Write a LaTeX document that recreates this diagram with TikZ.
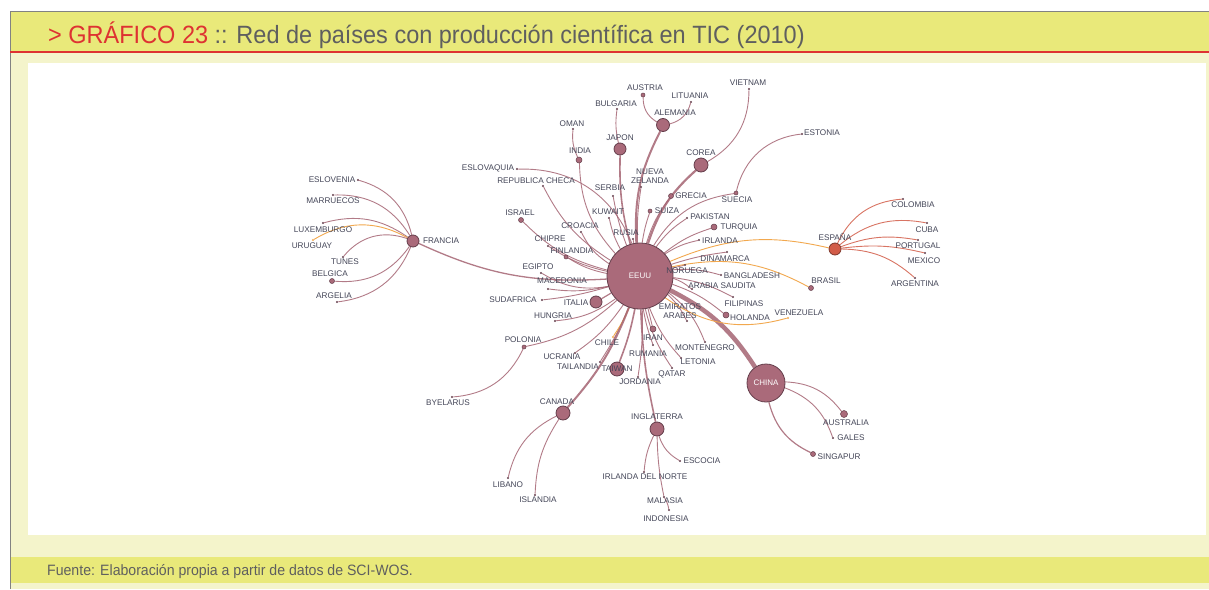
\documentclass[tikz,border=0pt]{standalone}
\usepackage{fontspec}
\setmainfont{Liberation Sans}
\newfontfamily\titulofont[FakeStretch=0.94]{Liberation Sans}

\definecolor{amarillo}{RGB}{233,233,122}
\definecolor{crema}{RGB}{244,244,203}
\definecolor{rojotit}{RGB}{222,50,50}
\definecolor{grisborde}{RGB}{130,130,130}
\definecolor{gristit}{RGB}{95,95,95}
\definecolor{malva}{RGB}{170,106,122}
\definecolor{malvaosc}{RGB}{100,62,75}
\definecolor{colarista}{RGB}{165,100,115}
\definecolor{naranja}{RGB}{242,168,78}
\definecolor{rojoesp}{RGB}{210,92,72}
\definecolor{texto}{RGB}{68,70,88}

\pgfdeclarelayer{fondo}
\pgfdeclarelayer{aristas}
\pgfsetlayers{fondo,aristas,main}

\tikzset{
  hub/.style={circle, draw=malvaosc, fill=malva, line width=0.8pt, inner sep=0pt},
  bola/.style={circle, draw=malvaosc, fill=malva, line width=0.5pt, inner sep=0pt, minimum size=5pt},
  punto/.style={circle, fill=malvaosc, inner sep=0pt, minimum size=2.2pt},
  pais/.style={font=\fontsize{8.2}{8.6}\selectfont, text=texto, inner sep=0pt, align=center},
  arista/.style={draw=colarista, line width=0.9pt, draw opacity=0.85},
  naranjo/.style={draw=naranja, line width=0.9pt},
}

\begin{document}
\begin{tikzpicture}[x=1pt, y=-1pt]
\useasboundingbox (0,0) rectangle (1209,589);

%fondo y marcos
\begin{pgfonlayer}{fondo}
  \fill[white] (0,0) rectangle (1209,589);
  \fill[crema] (10,52) rectangle (1209,589);
  \fill[amarillo] (10,11) rectangle (1209,52);
  \fill[amarillo] (10,557) rectangle (1209,583);
  \fill[white] (28,63) rectangle (1206,535);
  \draw[grisborde, line width=1pt] (10,589) -- (10,11) -- (1209,11);
  \draw[rojotit, line width=1.2pt] (10,52) -- (1209,52);
\end{pgfonlayer}

%titulo y fuente
\node[anchor=west, inner sep=0pt, text=gristit, font=\titulofont\fontsize{25}{28}\selectfont] (titulo) at (48,35)
  {\textcolor{rojotit}{> GRÁFICO 23} :: Red de países con producción científica en TIC (2010)};
\node[anchor=west, inner sep=0pt, text=gristit, font=\titulofont\fontsize{15}{17}\selectfont] (fuente) at (47,572)
  {Fuente: Elaboración propia a partir de datos de SCI-WOS.};

%nodos grandes
\node[hub, minimum size=66pt, text=white, font=\fontsize{8}{9}\selectfont] (eeuu) at (640,276) {EEUU};
\node[hub, minimum size=38pt, text=white, font=\fontsize{8}{9}\selectfont] (china) at (766,383) {CHINA};
\node[hub, minimum size=12pt] (francia) at (413,241) {};
\node[hub, minimum size=13pt] (alemania) at (663,125) {};
\node[hub, minimum size=14pt] (corea) at (701,165) {};
\node[hub, minimum size=12pt] (japon) at (620,149) {};
\node[hub, minimum size=12pt] (italia) at (596,302) {};
\node[hub, minimum size=14pt] (taiwan) at (617,369) {};
\node[hub, minimum size=14pt] (canada) at (563,413) {};
\node[hub, minimum size=14pt] (inglaterra) at (657,429) {};
\node[hub, minimum size=12pt, fill=rojoesp, draw=rojoesp!60!black] (espana) at (835,249) {};

%nodos medianos
\node[bola, minimum size=6pt] (india) at (579,160) {};
\node[bola] (israel) at (521,220) {};
\node[bola] (grecia) at (671,196) {};
\node[bola, minimum size=4pt] (suiza) at (650,211) {};
\node[bola, minimum size=6pt] (turquia) at (714,227) {};
\node[bola, minimum size=4pt] (suecia) at (736,193) {};
\node[bola, minimum size=6pt] (iran) at (653,329) {};
\node[bola, minimum size=6pt] (holanda) at (726,315) {};
\node[bola] (belgica) at (332,281) {};
\node[bola, minimum size=4pt] (polonia) at (524,347) {};
\node[bola] (brasil) at (811,288) {};
\node[bola, minimum size=7pt] (australia) at (844,414) {};
\node[bola] (singapur) at (813,454) {};
\node[bola, minimum size=4pt] (austria) at (643,95) {};
\node[bola, minimum size=4pt] (finlandia) at (566,257) {};

%puntos
\node[punto] (eslovenia) at (358,180) {};
\node[punto] (marruecos) at (333,195) {};
\node[punto] (luxemburgo) at (323,223) {};
\node[punto, fill=naranja] (uruguay) at (313,240) {};
\node[punto] (tunes) at (343,257) {};
\node[punto] (argelia) at (337,302) {};
\node[punto] (lituania) at (691,102) {};
\node[punto] (vietnam) at (749,89) {};
\node[punto] (estonia) at (802,134) {};
\node[punto] (pakistan) at (687,218) {};
\node[punto] (irlanda) at (699,240) {};
\node[punto] (dinamarca) at (727,252) {};
\node[punto] (noruega) at (685,265) {};
\node[punto] (bangladesh) at (721,275) {};
\node[punto] (arabia) at (692,289) {};
\node[punto] (filipinas) at (733,297) {};
\node[punto, fill=naranja] (venezuela) at (788,318) {};
\node[punto] (colombia) at (903,199) {};
\node[punto] (cuba) at (927,223) {};
\node[punto] (portugal) at (918,240) {};
\node[punto] (mexico) at (925,253) {};
\node[punto] (argentina) at (915,278) {};
\node[punto] (emiratos) at (687,321) {};
\node[punto] (montenegro) at (705,342) {};
\node[punto] (letonia) at (681,358) {};
\node[punto] (qatar) at (672,368) {};
\node[punto] (rumania) at (653,345) {};
\node[punto] (jordania) at (638,377) {};
\node[punto, fill=naranja] (chile) at (613,337) {};
\node[punto] (tailandia) at (600,362) {};
\node[punto] (ucrania) at (575,353) {};
\node[punto] (byelarus) at (452,397) {};
\node[punto] (libano) at (508,478) {};
\node[punto] (islandia) at (535,495) {};
\node[punto] (escocia) at (680,461) {};
\node[punto] (irlandanorte) at (644,472) {};
\node[punto] (malasia) at (664,497) {};
\node[punto] (indonesia) at (669,510) {};
\node[punto] (gales) at (833,438) {};
\node[punto] (oman) at (573,129) {};
\node[punto] (bulgaria) at (617,109) {};
\node[punto] (eslovaquia) at (517,169) {};
\node[punto] (checa) at (543,186) {};
\node[punto] (zelanda) at (641,187) {};
\node[punto] (serbia) at (613,196) {};
\node[punto] (kuwait) at (609,218) {};
\node[punto] (rusia) at (633,239) {};
\node[punto] (croacia) at (581,232) {};
\node[punto] (chipre) at (548,246) {};
\node[punto] (egipto) at (541,273) {};
\node[punto] (macedonia) at (548,289) {};
\node[punto] (sudafrica) at (542,300) {};
\node[punto] (hungria) at (555,321) {};

%etiquetas
\node[pais] (t-francia) at (441,241) {FRANCIA};
\node[pais] (t-eslovenia) at (332,180) {ESLOVENIA};
\node[pais] (t-marruecos) at (333,201) {MARRUECOS};
\node[pais] (t-luxemburgo) at (323,230) {LUXEMBURGO};
\node[pais] (t-uruguay) at (312,246) {URUGUAY};
\node[pais] (t-tunes) at (345,262) {TUNES};
\node[pais] (t-belgica) at (330,274) {BELGICA};
\node[pais] (t-argelia) at (334,296) {ARGELIA};
\node[pais] (t-austria) at (645,88) {AUSTRIA};
\node[pais] (t-lituania) at (690,96) {LITUANIA};
\node[pais] (t-alemania) at (675,113) {ALEMANIA};
\node[pais] (t-vietnam) at (748,83) {VIETNAM};
\node[pais] (t-corea) at (701,153) {COREA};
\node[pais] (t-estonia) at (822,133) {ESTONIA};
\node[pais] (t-suecia) at (737,200) {SUECIA};
\node[pais] (t-grecia) at (691,196) {GRECIA};
\node[pais] (t-suiza) at (667,211) {SUIZA};
\node[pais] (t-pakistan) at (710,217) {PAKISTAN};
\node[pais] (t-turquia) at (739,227) {TURQUIA};
\node[pais] (t-irlanda) at (720,241) {IRLANDA};
\node[pais] (t-dinamarca) at (725,259) {DINAMARCA};
\node[pais] (t-noruega) at (687,271) {NORUEGA};
\node[pais] (t-bangladesh) at (752,276) {BANGLADESH};
\node[pais] (t-arabia) at (722,286) {ARABIA SAUDITA};
\node[pais] (t-filipinas) at (744,304) {FILIPINAS};
\node[pais] (t-holanda) at (750,318) {HOLANDA};
\node[pais] (t-venezuela) at (799,313) {VENEZUELA};
\node[pais] (t-brasil) at (826,281) {BRASIL};
\node[pais] (t-espana) at (835,237) {ESPAÑA};
\node[pais] (t-colombia) at (913,205) {COLOMBIA};
\node[pais] (t-cuba) at (927,230) {CUBA};
\node[pais] (t-portugal) at (918,246) {PORTUGAL};
\node[pais] (t-mexico) at (924,261) {MEXICO};
\node[pais] (t-argentina) at (915,284) {ARGENTINA};
\node[pais] (t-emiratos) at (680,311) {EMIRATOS\\ARABES};
\node[pais] (t-iran) at (653,338) {IRAN};
\node[pais] (t-montenegro) at (705,348) {MONTENEGRO};
\node[pais] (t-letonia) at (698,362) {LETONIA};
\node[pais] (t-qatar) at (672,374) {QATAR};
\node[pais] (t-rumania) at (648,354) {RUMANIA};
\node[pais] (t-jordania) at (640,382) {JORDANIA};
\node[pais] (t-chile) at (607,343) {CHILE};
\node[pais] (t-taiwan) at (617,369) {TAIWAN};
\node[pais] (t-tailandia) at (578,367) {TAILANDIA};
\node[pais] (t-ucrania) at (562,357) {UCRANIA};
\node[pais] (t-polonia) at (523,340) {POLONIA};
\node[pais] (t-byelarus) at (448,403) {BYELARUS};
\node[pais] (t-canada) at (557,402) {CANADA};
\node[pais] (t-libano) at (508,485) {LIBANO};
\node[pais] (t-islandia) at (538,500) {ISLANDIA};
\node[pais] (t-inglaterra) at (657,417) {INGLATERRA};
\node[pais] (t-escocia) at (702,461) {ESCOCIA};
\node[pais] (t-irlandanorte) at (645,477) {IRLANDA DEL NORTE};
\node[pais] (t-malasia) at (665,501) {MALASIA};
\node[pais] (t-indonesia) at (666,519) {INDONESIA};
\node[pais] (t-australia) at (846,423) {AUSTRALIA};
\node[pais] (t-gales) at (851,438) {GALES};
\node[pais] (t-singapur) at (839,457) {SINGAPUR};
\node[pais] (t-oman) at (572,124) {OMAN};
\node[pais] (t-india) at (580,151) {INDIA};
\node[pais] (t-bulgaria) at (616,104) {BULGARIA};
\node[pais] (t-japon) at (620,138) {JAPON};
\node[pais] (t-eslovaquia) at (488,168) {ESLOVAQUIA};
\node[pais] (t-checa) at (536,181) {REPUBLICA CHECA};
\node[pais] (t-zelanda) at (650,176) {NUEVA\\ZELANDA};
\node[pais] (t-serbia) at (610,188) {SERBIA};
\node[pais] (t-kuwait) at (608,212) {KUWAIT};
\node[pais] (t-rusia) at (626,233) {RUSIA};
\node[pais] (t-israel) at (520,213) {ISRAEL};
\node[pais] (t-croacia) at (580,226) {CROACIA};
\node[pais] (t-chipre) at (550,239) {CHIPRE};
\node[pais] (t-finlandia) at (572,251) {FINLANDIA};
\node[pais] (t-egipto) at (538,267) {EGIPTO};
\node[pais] (t-macedonia) at (562,281) {MACEDONIA};
\node[pais] (t-sudafrica) at (513,300) {SUDAFRICA};
\node[pais] (t-italia) at (576,303) {ITALIA};
\node[pais] (t-hungria) at (553,316) {HUNGRIA};

%aristas
\begin{pgfonlayer}{aristas}
  %francia
  \draw[arista] (francia) to[bend right=30] (eslovenia);
  \draw[arista] (francia) to[bend right=30] (marruecos);
  \draw[arista] (francia) to[bend right=25] (luxemburgo);
  \draw[naranjo] (francia) to[bend right=30] (uruguay);
  \draw[arista] (francia) to[bend right=35] (tunes);
  \draw[arista] (francia) to[bend left=30] (belgica);
  \draw[arista] (francia) to[bend left=30] (argelia);
  \draw[arista, line width=1.3pt] (eeuu) to[bend left=14] (francia);
  %eeuu hacia arriba
  \draw[arista] (eeuu) to[bend left=20] (india);
  \draw[arista] (india) to[bend left=15] (oman);
  \draw[arista, line width=1.6pt] (eeuu) to[bend left=8] (japon);
  \draw[arista] (japon) to[bend left=10] (bulgaria);
  \draw[arista, line width=2pt] (eeuu) to[bend left=15] (alemania);
  \draw[arista] (alemania) to[bend left=30] (austria);
  \draw[arista] (alemania) to[bend right=30] (lituania);
  \draw[arista, line width=2.2pt] (eeuu) to[bend left=15] (corea);
  \draw[arista] (corea) to[bend right=30] (vietnam);
  \draw[arista] (eeuu) to[bend left=25] (suecia);
  \draw[arista] (suecia) to[bend left=35] (estonia);
  \draw[arista] (eeuu) to[bend left=10] (grecia);
  \draw[arista] (eeuu) to[bend left=5] (suiza);
  \draw[arista] (eeuu) to[bend left=5] (zelanda);
  \draw[arista] (eeuu) to[bend left=5] (serbia);
  \draw[arista] (eeuu) to[bend left=8] (kuwait);
  \draw[arista] (eeuu) to (rusia);
  %eeuu hacia la izquierda
  \draw[arista] (eeuu) to[bend right=35] (eslovaquia);
  \draw[arista] (eeuu) to[bend left=15] (checa);
  \draw[arista] (eeuu) to[bend left=15] (israel);
  \draw[arista] (eeuu) to[bend left=15] (croacia);
  \draw[arista] (eeuu) to[bend left=10] (chipre);
  \draw[arista] (eeuu) to[bend left=10] (finlandia);
  \draw[arista] (eeuu) to[bend left=20] (egipto);
  \draw[arista] (eeuu) to[bend left=10] (macedonia);
  \draw[arista] (eeuu) to[bend left=5] (sudafrica);
  \draw[arista, line width=1.2pt] (eeuu) to (italia);
  \draw[arista] (eeuu) to[bend left=15] (hungria);
  %eeuu hacia abajo
  \draw[arista] (eeuu) to[bend left=15] (polonia);
  \draw[arista] (polonia) to[bend left=30] (byelarus);
  \draw[arista] (eeuu) to[bend left=10] (ucrania);
  \draw[arista] (eeuu) to[bend left=5] (tailandia);
  \draw[naranjo] (eeuu) to[bend left=5] (chile);
  \draw[arista, line width=1.6pt] (eeuu) to[bend left=5] (taiwan);
  \draw[arista, line width=2pt] (eeuu) to[bend left=10] (canada);
  \draw[arista] (canada) to[bend right=25] (libano);
  \draw[arista] (canada) to[bend right=15] (islandia);
  \draw[arista] (eeuu) to[bend left=5] (jordania);
  \draw[arista] (eeuu) to[bend right=5] (rumania);
  \draw[arista] (eeuu) to (iran);
  \draw[arista] (eeuu) to[bend right=10] (qatar);
  \draw[arista] (eeuu) to[bend right=10] (letonia);
  \draw[arista] (eeuu) to[bend left=15] (montenegro);
  \draw[arista] (eeuu) to[bend left=10] (emiratos);
  \draw[arista, line width=1.6pt] (eeuu) to[bend right=5] (inglaterra);
  \draw[arista] (inglaterra) to[bend right=20] (escocia);
  \draw[arista] (inglaterra) to[bend right=10] (irlandanorte);
  \draw[arista] (inglaterra) to[bend right=5] (malasia);
  \draw[arista] (malasia) to[bend left=10] (indonesia);
  %china
  \draw[arista, line width=4.5pt] (eeuu) to[bend left=15] (china);
  \draw[arista] (china) to[bend left=25] (australia);
  \draw[arista] (china) to[bend left=25] (gales);
  \draw[arista, line width=1.2pt] (china) to[bend right=25] (singapur);
  %eeuu hacia la derecha
  \draw[arista] (eeuu) to[bend left=10] (holanda);
  \draw[arista] (eeuu) to[bend left=10] (filipinas);
  \draw[arista] (eeuu) to[bend left=10] (arabia);
  \draw[arista] (eeuu) to[bend left=10] (bangladesh);
  \draw[arista] (eeuu) to (noruega);
  \draw[arista] (eeuu) to[bend left=5] (dinamarca);
  \draw[arista] (eeuu) to[bend left=10] (irlanda);
  \draw[arista] (eeuu) to[bend left=10] (turquia);
  \draw[arista] (eeuu) to[bend left=10] (pakistan);
  \draw[naranjo] (eeuu) to[bend left=18] (espana);
  \draw[naranjo] (eeuu) to[bend left=20] (brasil);
  \draw[naranjo] (eeuu) to[bend right=25] (venezuela);
  %espana
  \draw[arista, draw=rojoesp] (espana) to[bend left=30] (colombia);
  \draw[arista, draw=rojoesp] (espana) to[bend left=25] (cuba);
  \draw[arista, draw=rojoesp] (espana) to[bend left=15] (portugal);
  \draw[arista, draw=rojoesp] (espana) to[bend left=10] (mexico);
  \draw[arista, draw=rojoesp] (espana) to[bend left=20] (argentina);
\end{pgfonlayer}
\end{tikzpicture}
\end{document}
